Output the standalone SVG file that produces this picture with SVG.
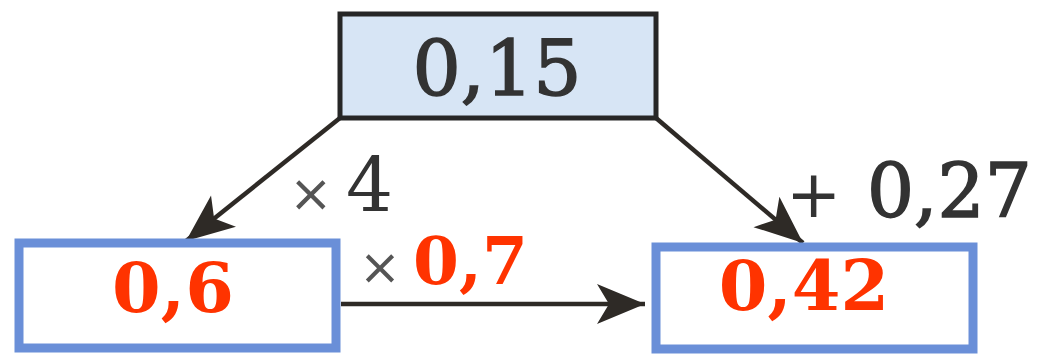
<svg xmlns="http://www.w3.org/2000/svg" width="1037" height="355" viewBox="0 0 1037 355">
<style>
.top{fill:#d7e5f5;stroke:#262626;stroke-width:5}
.bot{fill:#ffffff;stroke:#6a8fd8;stroke-width:9}
.dark{font-family:"DejaVu Serif",serif;fill:#333333}
.heavy{stroke:#333333;stroke-width:1.6}
.red{font-family:"DejaVu Serif",serif;font-weight:bold;fill:#ff3300}
.conn{stroke:#2e2a26;stroke-width:4.5;fill:none}
</style>
<defs>
<marker id="ah" viewBox="-50 -25 55 50" refX="0" refY="0" markerWidth="55" markerHeight="50" markerUnits="userSpaceOnUse" orient="auto">
<path d="M0,0 L-48,-20 L-36,0 L-48,20 Z" fill="#2e2a26"/>
</marker>
</defs>
<rect width="1037" height="355" fill="#ffffff"/>
<g id="connectors">
<line class="conn" x1="340" y1="118" x2="186" y2="241" marker-end="url(#ah)"/>
<line class="conn" x1="656" y1="118" x2="803" y2="243" marker-end="url(#ah)"/>
<line class="conn" x1="341" y1="304" x2="645" y2="304" marker-end="url(#ah)"/>
<text class="dark" x="289" y="211"><tspan font-family="DejaVu Sans" font-size="52" fill="#555555">×</tspan><tspan x="346" font-size="74">4</tspan></text>
<text class="dark" x="786" y="217"><tspan font-family="DejaVu Sans" font-size="66">+</tspan><tspan class="heavy" x="867" font-size="74">0,27</tspan></text>
<text x="359" y="284"><tspan font-family="DejaVu Sans" font-size="50" fill="#555555">×</tspan><tspan class="red" x="413" font-size="66">0,7</tspan></text>
</g>
<g id="node-top">
<rect class="top" x="340" y="14" width="316" height="104"/>
<text class="dark heavy" x="497" y="95" font-size="76" text-anchor="middle">0,15</text>
</g>
<g id="node-left">
<rect class="bot" x="19" y="243" width="317" height="105"/>
<text class="red" x="173" y="312" font-size="70" text-anchor="middle">0,6</text>
</g>
<g id="node-right">
<rect class="bot" x="656" y="247" width="317" height="102"/>
<text class="red" x="804" y="310" font-size="70" text-anchor="middle">0,42</text>
</g>
</svg>
